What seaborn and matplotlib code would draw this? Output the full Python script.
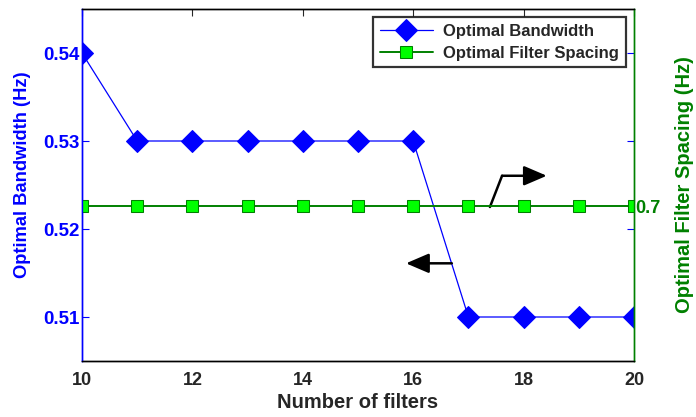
import matplotlib
matplotlib.use("Agg")
import matplotlib.pyplot as plt
import seaborn as sns
import pandas as pd

num_filters = [10, 11, 12, 13, 14, 15, 16, 17, 18, 19, 20]
opt_bandwidth = [0.54, 0.53, 0.53, 0.53, 0.53, 0.53, 0.53, 0.51, 0.51, 0.51, 0.51]
opt_spacing = [0.7, 0.7, 0.7, 0.7, 0.7, 0.7, 0.7, 0.7, 0.7, 0.7, 0.7]
x_ticks = [10, 12, 14, 16, 18, 20]
left_ticks = [0.51, 0.52, 0.53, 0.54]
right_ticks = [0.7]

sns.set_style("white")
plt.rcParams['font.family'] = ['Liberation Sans', 'DejaVu Sans']
plt.rcParams['font.weight'] = 'bold'

df = pd.DataFrame({"n": num_filters, "bw": opt_bandwidth, "sp": opt_spacing})

fig = plt.figure(figsize=(6.96, 4.17), dpi=100)
ax = fig.add_axes([82/696, 1-361/417, (634-82)/696, (361-9)/417])
ax2 = ax.twinx()

blue = "#0000ff"
green = "#008000"

sns.lineplot(data=df, x="n", y="bw", ax=ax, color=blue, marker="D", markersize=11,
             markeredgecolor=blue, markerfacecolor=blue, linewidth=0.9, label="Optimal Bandwidth", legend=False)
sns.lineplot(data=df, x="n", y="sp", ax=ax2, color=green, marker="s", markersize=8,
             markeredgecolor=green, markerfacecolor="#00ff00", linewidth=1.4, label="Optimal Filter Spacing", legend=False)

ax.set_xlim(10, 20)
ax.set_ylim(0.505, 0.545)
ax2.set_ylim(0.48, 0.98)
ax.set_xticks(x_ticks)
ax.set_yticks(left_ticks)
ax.set_yticklabels([f"{v:.2f}" for v in left_ticks], color=blue, fontsize=13.5, fontweight='bold')
ax.set_xticklabels([str(v) for v in x_ticks], fontsize=13, fontweight='bold')
ax2.set_yticks(right_ticks)
ax2.set_yticklabels([str(v) for v in right_ticks], color=green, fontsize=13, fontweight='bold')

ax.tick_params(axis='y', direction='in', length=5, colors=blue, labelcolor=blue, right=True, pad=2)
ax.tick_params(axis='x', direction='in', length=5, top=True, pad=8)
ax2.tick_params(axis='y', direction='in', length=5, colors=green, labelcolor=green, pad=1)

ax.set_xlabel("Number of filters", fontsize=14.5, fontweight='bold', labelpad=3)
ax.set_ylabel("Optimal Bandwidth (Hz)", fontsize=13.2, fontweight='bold', color=blue)
ax.yaxis.set_label_coords(-0.092, 0.528)
ax2.set_ylabel("Optimal Filter Spacing (Hz)", fontsize=14.5, fontweight='bold', color=green, labelpad=10)

for a in (ax, ax2):
    for s in a.spines.values():
        s.set_linewidth(1.0)
        s.set_color("black")
ax.spines['left'].set_color(blue)
ax2.spines['left'].set_color(blue)
ax2.spines['right'].set_color(green)
ax.spines['right'].set_color(green)

# annotation arrows
astyle = "-|>,head_length=0.7,head_width=0.3"
ax.annotate("", xy=(15.87, 0.5161), xytext=(16.70, 0.5161),
            arrowprops=dict(arrowstyle=astyle, color="black", lw=1.8, mutation_scale=20,
                            shrinkA=0, shrinkB=0))
ax.plot([17.39, 17.61], [0.5225, 0.52605], color="black", lw=1.8)
ax.annotate("", xy=(18.42, 0.52605), xytext=(17.61, 0.52605),
            arrowprops=dict(arrowstyle=astyle, color="black", lw=1.8, mutation_scale=20,
                            shrinkA=0, shrinkB=0))

h1, l1 = ax.get_legend_handles_labels()
h2, l2 = ax2.get_legend_handles_labels()
leg = ax2.legend(h1 + h2, l1 + l2, loc="upper right", fontsize=12, frameon=True, fancybox=False,
                 edgecolor="black", borderaxespad=0.5, handlelength=3.2, borderpad=0.4,
                 labelspacing=0.4, handletextpad=0.6)
leg.get_frame().set_linewidth(1.6)
for t in leg.get_texts():
    t.set_fontweight('bold')

fig.savefig("out.png", dpi=100)
